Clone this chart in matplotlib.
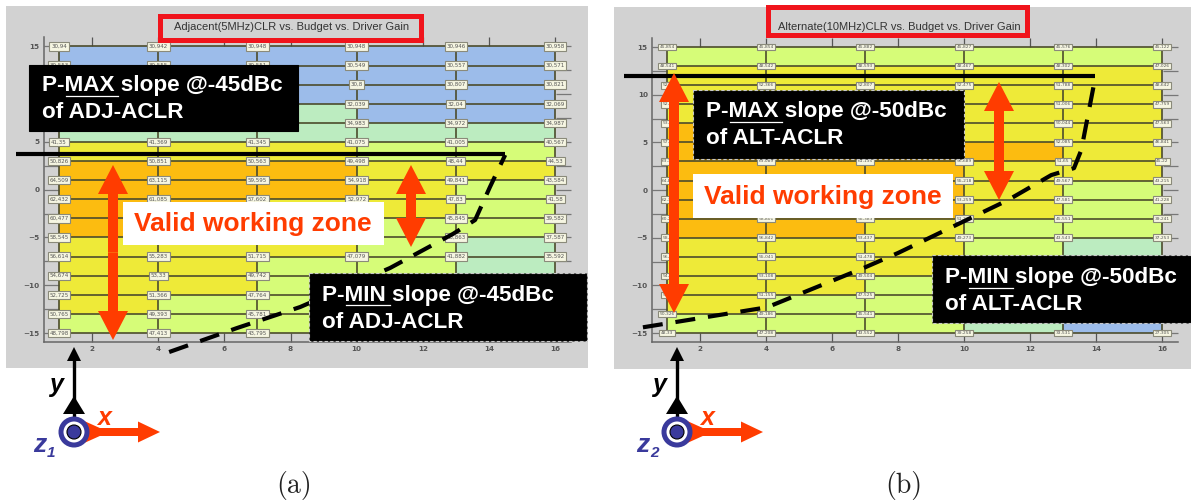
# -*- coding: utf-8 -*-
"""ACLR contour tables vs budget and driver gain, with the annotated working zones."""
import matplotlib
matplotlib.use('Agg')
import matplotlib.pyplot as plt
from matplotlib.colors import ListedColormap
from matplotlib.patches import Circle, FancyArrow, Polygon, Rectangle
import numpy as np

W, H = 1191, 504
nan = float('nan')

COLS = [1, 4, 7, 10, 13, 16]
ROWS = [15, 13, 11, 9, 7, 5, 3, 1, -1, -3, -5, -7, -9, -11, -13, -15]
X_TICKS = [2, 4, 6, 8, 10, 12, 14, 16]
Y_TICKS = [-15, -10, -5, 0, 5, 10, 15]
Y_MINOR = [-12.5, -7.5, -2.5, 2.5, 7.5, 12.5]

ADJ_TITLE = 'Adjacent(5MHz)CLR vs. Budget vs. Driver Gain'
ALT_TITLE = 'Alternate(10MHz)CLR vs. Budget vs. Driver Gain'

# nan = covered by an annotation box in the picture
ADJ_VALUES = [
    [30.94, 30.942, 30.948, 30.948, 30.946, 30.958],
    [30.553, 30.555, 30.551, 30.549, 30.557, 30.571],
    [nan, nan, nan, 30.8, 30.807, 30.821],
    [nan, nan, nan, 32.039, 32.04, 32.069],
    [nan, nan, nan, 34.983, 34.972, 34.987],
    [41.35, 41.369, 41.345, 41.075, 41.005, 40.567],
    [50.826, 50.851, 50.563, 49.498, 48.44, 44.53],
    [64.509, 63.115, 59.595, 54.918, 49.841, 43.584],
    [62.432, 61.085, 57.602, 52.972, 47.83, 41.58],
    [60.477, nan, nan, nan, 45.845, 39.582],
    [58.545, nan, nan, nan, 43.863, 37.587],
    [56.614, 55.283, 51.715, 47.079, 41.882, 35.592],
    [54.674, 53.33, 49.742, nan, nan, nan],
    [52.725, 51.366, 47.764, nan, nan, nan],
    [50.765, 49.393, 45.781, nan, nan, nan],
    [48.798, 47.413, 43.795, nan, nan, nan],
]
ALT_VALUES = [
    [45.854, 45.854, 45.882, 45.827, 45.576, 45.122],
    [48.541, 48.542, 48.593, 48.467, 48.302, 47.026],
    [52.3, 52.366, 52.807, 52.475, 51.788, 48.642],
    [52.2, nan, nan, nan, 51.006, 47.759],
    [53.8, nan, nan, nan, 50.044, 47.563],
    [57.4, nan, nan, nan, 52.085, 46.841],
    [63.3, 63.089, 61.135, 56.689, 51.65, 45.22],
    [64.8, nan, nan, 55.218, 49.567, 43.215],
    [62.3, nan, nan, 53.259, 47.581, 41.228],
    [60.2, 58.801, 55.383, 51.277, 45.551, 39.241],
    [58.3, 56.842, 53.437, 49.273, 43.543, 37.253],
    [56.3, 55.041, 51.478, nan, nan, nan],
    [54.3, 53.108, 49.504, nan, nan, nan],
    [52.3, 51.155, 47.525, nan, nan, nan],
    [50.326, 49.186, 45.541, nan, nan, nan],
    [48.33, 47.208, 43.552, 39.258, 33.531, 27.305],
]

# colour band of each cell: 0 blue, 1 green, 2 lime, 3 yellow, 4 orange
ADJ_BANDS = [
    [0, 0, 0, 0, 0],
    [0, 0, 0, 0, 0],
    [0, 0, 0, 0, 0],
    [1, 1, 1, 0, 0],
    [1, 1, 1, 1, 1],
    [3, 3, 3, 2, 2],
    [4, 4, 4, 3, 3],
    [4, 4, 4, 3, 2],
    [4, 4, 3, 3, 2],
    [4, 3, 3, 2, 2],
    [3, 3, 3, 2, 1],
    [3, 3, 2, 2, 1],
    [3, 3, 2, 2, 1],
    [3, 2, 2, 2, 1],
    [2, 2, 2, 2, 1],
]
ALT_BANDS = [
    [2, 2, 2, 2, 2],
    [3, 3, 3, 3, 3],
    [3, 3, 3, 3, 3],
    [3, 3, 3, 3, 3],
    [4, 4, 4, 3, 3],
    [4, 4, 4, 4, 3],
    [4, 4, 4, 3, 3],
    [4, 4, 4, 3, 2],
    [4, 4, 4, 3, 2],
    [4, 4, 3, 2, 2],
    [3, 3, 3, 2, 1],
    [3, 3, 3, 2, 1],
    [3, 3, 2, 2, 1],
    [3, 2, 2, 2, 1],
    [2, 2, 2, 1, 0],
]
BAND_COLORS = ['#9cbcea', '#bcecc0', '#d6fc78', '#eeea38', '#fcbc10']

ADJ_PMAX_X = [-0.3, 14.49]
ADJ_PMAX_Y = [3.74, 3.74]
ADJ_PMIN_X = [4.33, 6.38, 8.29, 11.01, 12.91, 13.58, 14.03, 14.49]
ADJ_PMIN_Y = [-16.99, -14.48, -12.28, -8.19, -4.63, -3.17, 0.29, 3.64]
ALT_PMAX_X = [-0.3, 13.97]
ALT_PMAX_Y = [12.0, 12.0]
ALT_PMIN_X = [0.27, 4.03, 6.94, 8.0, 11.33, 12.64, 13.33, 13.55, 13.94]
ALT_PMIN_Y = [-14.4, -12.3, -8.2, -6.6, -1.05, 1.57, 2.3, 4.2, 11.2]

RED = '#ff3c00'
INK = '#3a3a9c'


def px_axes(fig, left, top, right, bottom, **kw):
    return fig.add_axes([left / W, 1 - bottom / H, (right - left) / W, (bottom - top) / H], **kw)


def draw_panel(fig, box, xlim, ylim, values, bands, pmax, pmin, label_size):
    ax = px_axes(fig, *box, zorder=1)
    ax.patch.set_alpha(0)
    cmap = ListedColormap(BAND_COLORS)
    ax.pcolormesh(COLS, ROWS, np.array(bands), cmap=cmap, vmin=-0.5, vmax=4.5, zorder=1)
    ax.hlines(ROWS, COLS[0], COLS[-1], color='#4c4c2c', lw=1.2, zorder=2)
    ax.vlines(COLS, ROWS[-1], ROWS[0], color='#4c4c2c', lw=1.2, zorder=2)
    for r, row in zip(ROWS, values):
        for c, v in zip(COLS, row):
            if v != v:
                continue
            ax.text(c, r, str(v).replace('.', ','), ha='center', va='center', fontsize=label_size,
                    color='#555555', zorder=3,
                    bbox=dict(boxstyle='square,pad=0.3', fc='#f6f6e2', ec='#8a8a7a', lw=0.8))
    ax.set_xlim(*xlim)
    ax.set_ylim(*ylim)
    ax.set_xticks(X_TICKS)
    ax.set_yticks(Y_TICKS)
    ax.set_yticks(Y_MINOR, minor=True)
    ax.set_yticklabels([str(t).replace('-', '\u2212') for t in Y_TICKS])
    for side in ['top', 'right']:
        ax.spines[side].set_visible(False)
    for side in ['left', 'bottom']:
        ax.spines[side].set_color('#666666')
        ax.spines[side].set_linewidth(1.1)
    ax.tick_params(axis='x', which='major', direction='in', top=True, length=6.5, width=0.9,
                   color='#555555', labelsize=5.2, labelcolor='#555555', pad=3)
    ax.tick_params(axis='y', which='both', direction='in', right=True, length=10.8, width=0.9,
                   color='#777777')
    ax.tick_params(axis='y', which='major', labelsize=5.2, labelcolor='#555555', pad=3)
    for lab in ax.get_xticklabels() + ax.get_yticklabels():
        lab.set_fontweight('bold')
    ax.plot(pmax[0], pmax[1], color='black', lw=3, clip_on=False, zorder=4, solid_capstyle='butt')
    ax.plot(pmin[0], pmin[1], color='black', lw=3, clip_on=False, zorder=4,
            dashes=(4.8, 3.1), dash_capstyle='butt')
    return ax


def note_box(ax, left, top, right, bottom, line1, line2, x_text, y1, y2, ul, dashed):
    ax.add_patch(Rectangle((left, top), right - left, bottom - top, fc='black',
                           ec='#c8c8c8' if dashed else 'black', lw=0.8,
                           ls=(0, (3, 2)) if dashed else '-', zorder=5))
    for y, txt in ((y1, line1), (y2, line2)):
        ax.text(x_text, y, txt, color='white', fontsize=16.2, fontweight='bold', ha='left',
                va='center', family='Liberation Sans', zorder=6)
    ax.plot(ul[:2], [ul[2], ul[2]], color='white', lw=0.9, zorder=6)


def zone_box(ax, left, top, right, bottom, x_mid, y_mid):
    ax.add_patch(Rectangle((left, top), right - left, bottom - top, fc='white', ec='none', zorder=5))
    ax.text(x_mid, y_mid, 'Valid working zone', color=RED, fontsize=19, fontweight='bold',
            ha='center', va='center', family='Liberation Sans', zorder=6)


def double_arrow(ax, x, y0, y1, shaft=10):
    mid = (y0 + y1) / 2
    for end in (y0, y1):
        ax.add_patch(FancyArrow(x, mid, 0, end - mid, width=shaft, head_width=30, head_length=29,
                                length_includes_head=True, fc=RED, ec='none', zorder=7))


def triad(ax, cx, label):
    cy = 432
    ax.plot([cx, cx], [cy, 358], color='black', lw=2.4, zorder=7)
    ax.add_patch(Polygon([[cx, 347], [cx - 7, 361], [cx + 7, 361]], fc='black', ec='none', zorder=7))
    ax.add_patch(Polygon([[cx, 396], [cx - 11, 414], [cx + 11, 414]], fc='black', ec='none', zorder=7))
    ax.add_patch(Polygon([[cx + 8, 420], [cx + 28, 429], [cx + 28, 435], [cx + 8, 444]],
                         fc=RED, ec='none', zorder=7))
    ax.add_patch(FancyArrow(cx + 10, cy, 76, 0, width=8, head_width=21, head_length=22,
                            length_includes_head=True, fc=RED, ec='none', zorder=7))
    ax.add_patch(Circle((cx, cy), 13, fc='white', ec=INK, lw=3.6, zorder=8))
    ax.add_patch(Circle((cx, cy), 7, fc=INK, ec='black', lw=0.8, zorder=9))
    font = dict(style='italic', fontweight='bold', family='Liberation Sans', ha='center', va='center')
    ax.text(cx - 18, 385, 'y', color='black', fontsize=18, zorder=9, **font)
    ax.text(cx + 30, 418, 'x', color=RED, fontsize=18, zorder=9, **font)
    ax.text(cx - 34, 445, 'z', color=INK, fontsize=19, zorder=9, **font)
    ax.text(cx - 23, 453, label, color=INK, fontsize=11, zorder=9, **font)


def main():
    fig = plt.figure(figsize=(W / 100, H / 100), dpi=100, facecolor='white')

    back = px_axes(fig, 0, 0, W, H, zorder=0)
    back.set_xlim(0, W)
    back.set_ylim(H, 0)
    back.axis('off')
    back.add_patch(Rectangle((6, 6), 582, 362, fc='#d2d2d2', ec='none'))
    back.add_patch(Rectangle((614, 7), 577, 362, fc='#d2d2d2', ec='none'))

    draw_panel(fig, (44, 37, 571, 342), (0.546, 16.48), (-15.94, 15.99), ADJ_VALUES, ADJ_BANDS,
               (ADJ_PMAX_X, ADJ_PMAX_Y), (ADJ_PMIN_X, ADJ_PMIN_Y), 4.0)
    draw_panel(fig, (652, 38, 1178, 342), (0.545, 16.48), (-15.94, 15.95), ALT_VALUES, ALT_BANDS,
               (ALT_PMAX_X, ALT_PMAX_Y), (ALT_PMIN_X, ALT_PMIN_Y), 3.2)

    front = px_axes(fig, 0, 0, W, H, zorder=2)
    front.set_xlim(0, W)
    front.set_ylim(H, 0)
    front.axis('off')

    # red frames round the titles
    front.add_patch(Rectangle((159.5, 15.5), 261, 24.5, fc='#d2d2d2', ec='#f0141c', lw=3.6, zorder=4))
    front.text(292, 27, ADJ_TITLE, fontsize=8, color='#333333', ha='center', va='center',
               family='Liberation Sans', zorder=5)
    front.add_patch(Rectangle((767.5, 6.5), 259, 28, fc='#d2d2d2', ec='#f0141c', lw=3.6, zorder=4))
    front.text(899, 27, ALT_TITLE, fontsize=8, color='#333333', ha='center', va='center',
               family='Liberation Sans', zorder=5)

    note_box(front, 29, 65, 298, 131, 'P-MAX slope @-45dBc', 'of ADJ-ACLR', 42, 85, 113, (66, 118, 96), False)
    note_box(front, 309, 273, 587, 341, 'P-MIN slope @-45dBc', 'of ADJ-ACLR', 322, 295, 322, (346, 390, 305), True)
    note_box(front, 693, 90, 964, 159, 'P-MAX slope @-50dBc', 'of ALT-ACLR', 706, 112, 139, (730, 782, 122), True)
    note_box(front, 932, 255, 1200, 323, 'P-MIN slope @-50dBc', 'of ALT-ACLR', 945, 277, 304, (969, 1013, 287.5), True)

    zone_box(front, 123, 202, 384, 245, 253, 224)
    zone_box(front, 693, 174, 953, 218, 823, 197)

    double_arrow(front, 113, 165, 340)
    double_arrow(front, 411, 165, 247)
    double_arrow(front, 674, 73, 313)
    double_arrow(front, 999, 82, 200)

    triad(front, 74, '1')
    triad(front, 677, '2')

    front.text(294, 486, '(a)', family='cmr10', fontsize=20, ha='center', va='center', color='#222222')
    front.text(904, 486, '(b)', family='cmr10', fontsize=20, ha='center', va='center', color='#222222')

    fig.savefig('out.png', dpi=100)
    plt.close(fig)


if __name__ == '__main__':
    main()
